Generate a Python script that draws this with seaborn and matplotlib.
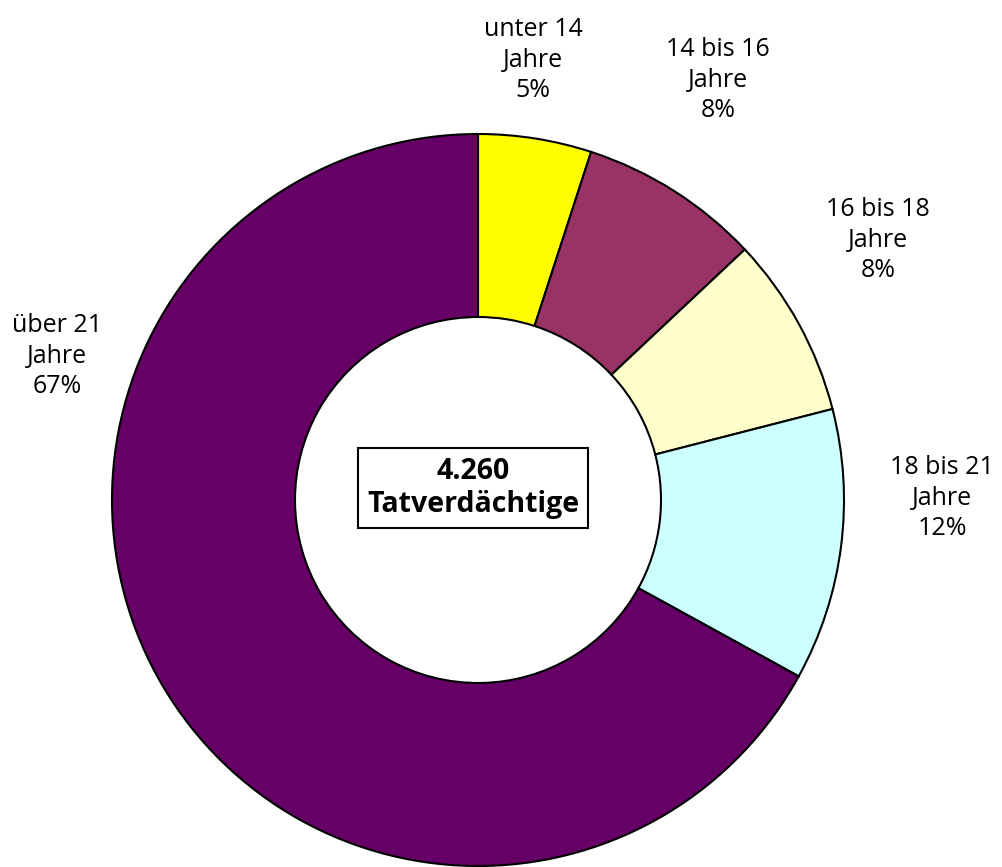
import matplotlib
matplotlib.use("Agg")
import matplotlib.pyplot as plt
import seaborn as sns

# Age groups of suspects (Tatverdächtige), share in percent
groups = ["unter 14\nJahre", "14 bis 16\nJahre", "16 bis 18\nJahre",
          "18 bis 21\nJahre", "über 21\nJahre"]
shares = [5, 8, 8, 12, 67]
colors = ["#FFFF00", "#993366", "#FFFFCC", "#CCFFFF", "#660066"]
total_label = "4.260\nTatverdächtige"

sns.set_theme(style="white")
plt.rcParams["font.family"] = ["Open Sans", "DejaVu Sans"]

W, H = 1002, 867
fig = plt.figure(figsize=(W / 100, H / 100), dpi=100)
ax = fig.add_axes([0, 0, 1, 1])

cx, cy, r = 478, H - 500, 366
wedges, _ = ax.pie(
    shares, colors=colors, startangle=90, counterclock=False,
    center=(cx, cy), radius=r, frame=True,
    wedgeprops=dict(width=r * 0.5, edgecolor="black", linewidth=1.5),
)
ax.set_xlim(0, W)
ax.set_ylim(0, H)
ax.set_aspect("equal")
ax.axis("off")

# label anchors (pixel positions, measured from top-left)
label_pos = [(533, 60), (718, 80), (878, 240), (942, 498), (57, 356)]
for g, s, (lx, ly) in zip(groups, shares, label_pos):
    ax.text(lx, H - ly, f"{g}\n{s}%", ha="center", va="center",
            fontsize=18, fontweight="normal", linespacing=1.3,
            color="black")

ax.text(cx - 5, H - 488, total_label, ha="center", va="center",
        fontsize=20.5, fontweight="bold", linespacing=1.2, color="black",
        bbox=dict(boxstyle="square,pad=0.3", facecolor="white",
                  edgecolor="black", linewidth=1.5))

fig.savefig("out.png", dpi=100)
